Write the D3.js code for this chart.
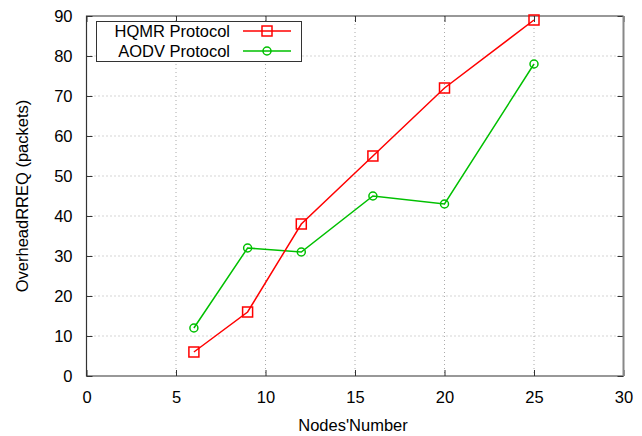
<!DOCTYPE html>
<html>
<head>
  <meta charset="utf-8">
  <title>Overhead RREQ</title>
  <style>
    body { margin: 0; background: #fff; }
    text { font-family: "Liberation Sans", Arial, sans-serif; }
  </style>
</head>
<body>
<script src="https://d3js.org/d3.v7.min.js"></script>
<svg id="chart" width="642" height="436"></svg>

<script>
    var nodes = [6, 9, 12, 16, 20, 25];
    var hqmr = [6, 16, 38, 55, 72, 89];
    var aodv = [12, 32, 31, 45, 43, 78];
    var xTicks = [0, 5, 10, 15, 20, 25, 30];
    var yTicks = [0, 10, 20, 30, 40, 50, 60, 70, 80, 90];
    var seriesNames = ["HQMR Protocol", "AODV Protocol"];

    // note: "top" is reserved on window, so use plotTop
    var svg = d3.select("#chart"),
        plotLeft = 86.5, plotRight = 623.5, plotTop = 16, plotBottom = 376,
        fs = 16.5;

    var x = d3.scaleLinear().domain([0, 30]).range([plotLeft, plotRight]);
    var y = d3.scaleLinear().domain([0, 90]).range([plotBottom, plotTop]);

    // grid (dotted)
    var grid = svg.append("g");
    grid.selectAll(".gx").data(xTicks.slice(1, -1)).enter().append("line")
        .attr("x1", d => x(d)).attr("x2", d => x(d))
        .attr("y1", plotTop).attr("y2", plotBottom)
        .attr("stroke", "#aaa").attr("stroke-width", 1).attr("stroke-dasharray", "1,3");
    grid.selectAll(".gy").data(yTicks.slice(1, -1)).enter().append("line")
        .attr("x1", plotLeft).attr("x2", plotRight)
        .attr("y1", d => y(d)).attr("y2", d => y(d))
        .attr("stroke", "#aaa").attr("stroke-width", 1).attr("stroke-dasharray", "1,3");

    // axes with inward ticks
    var tickLen = 6;
    svg.append("g").attr("transform", "translate(0," + plotBottom + ")")
        .call(d3.axisBottom(x).tickValues(xTicks).tickSizeInner(-tickLen).tickSizeOuter(0).tickPadding(15))
        .call(g => g.select(".domain").remove());
    svg.append("g").attr("transform", "translate(" + plotLeft + ",0)")
        .call(d3.axisLeft(y).tickValues(yTicks).tickSizeInner(-tickLen).tickSizeOuter(0).tickPadding(14))
        .call(g => g.select(".domain").remove());
    svg.append("g").attr("transform", "translate(0," + plotTop + ")")
        .call(d3.axisTop(x).tickValues(xTicks).tickSizeInner(-tickLen).tickSizeOuter(0).tickFormat(""))
        .call(g => g.select(".domain").remove());
    svg.append("g").attr("transform", "translate(" + plotRight + ",0)")
        .call(d3.axisRight(y).tickValues(yTicks).tickSizeInner(-tickLen).tickSizeOuter(0).tickFormat(""))
        .call(g => g.select(".domain").remove());

    svg.selectAll(".tick text").attr("font-size", fs).attr("fill", "#000")
        .attr("font-family", "Liberation Sans, Arial, sans-serif");
    svg.selectAll(".tick line").attr("stroke", "#333");

    // border
    svg.append("path")
        .attr("d", "M" + plotRight + "," + plotTop + "H" + plotLeft + "V" + plotBottom + "H" + plotRight)
        .attr("fill", "none").attr("stroke", "#333").attr("stroke-width", 1.2);
    svg.append("line")
        .attr("x1", plotRight).attr("x2", plotRight).attr("y1", plotTop).attr("y2", plotBottom)
        .attr("stroke", "#888").attr("stroke-width", 2);

    // series
    var line = d3.line().x(d => x(d[0])).y(d => y(d[1]));
    var red = "#ff0000", green = "#00c000";
    var hq = nodes.map((n, i) => [n, hqmr[i]]);
    var ao = nodes.map((n, i) => [n, aodv[i]]);

    function drawSeries(pts, color, shape) {
        svg.append("path").datum(pts).attr("d", line)
            .attr("fill", "none").attr("stroke", color).attr("stroke-width", 1.5);
        drawMarkers(svg, pts.map(p => [x(p[0]), y(p[1])]), color, shape);
    }
    function drawMarkers(g, pts, color, shape) {
        pts.forEach(function(p) {
            if (shape === "square") {
                g.append("rect").attr("x", p[0] - 5).attr("y", p[1] - 5)
                    .attr("width", 10).attr("height", 10)
                    .attr("fill", "none").attr("stroke", color).attr("stroke-width", 1.5);
            } else {
                g.append("circle").attr("cx", p[0]).attr("cy", p[1]).attr("r", 4)
                    .attr("fill", "none").attr("stroke", color).attr("stroke-width", 1.5);
            }
        });
    }
    drawSeries(ao, green, "circle");
    drawSeries(hq, red, "square");

    // legend
    var lg = svg.append("g");
    lg.append("rect").attr("x", 96.5).attr("y", 21.5).attr("width", 205).attr("height", 40)
        .attr("fill", "#fff").attr("stroke", "#333").attr("stroke-width", 1);
    var legendItems = [[seriesNames[0], red, "square"], [seriesNames[1], green, "circle"]];
    legendItems.forEach(function(it, i) {
        var cy = 31 + i * 20;
        lg.append("text").attr("x", 230).attr("y", cy).attr("dy", "0.35em")
            .attr("text-anchor", "end").attr("font-size", fs).text(it[0]);
        lg.append("line").attr("x1", 243).attr("x2", 291).attr("y1", cy).attr("y2", cy)
            .attr("stroke", it[1]).attr("stroke-width", 1.5);
        drawMarkers(lg, [[267, cy]], it[1], it[2]);
    });

    // axis labels
    svg.append("text").attr("x", 353).attr("y", 431)
        .attr("text-anchor", "middle").attr("font-size", fs).text("Nodes'Number");
    svg.append("text").attr("transform", "translate(28," + ((plotTop + plotBottom) / 2) + ") rotate(-90)")
        .attr("text-anchor", "middle").attr("font-size", fs).text("OverheadRREQ (packets)");
</script>
</body>
</html>
